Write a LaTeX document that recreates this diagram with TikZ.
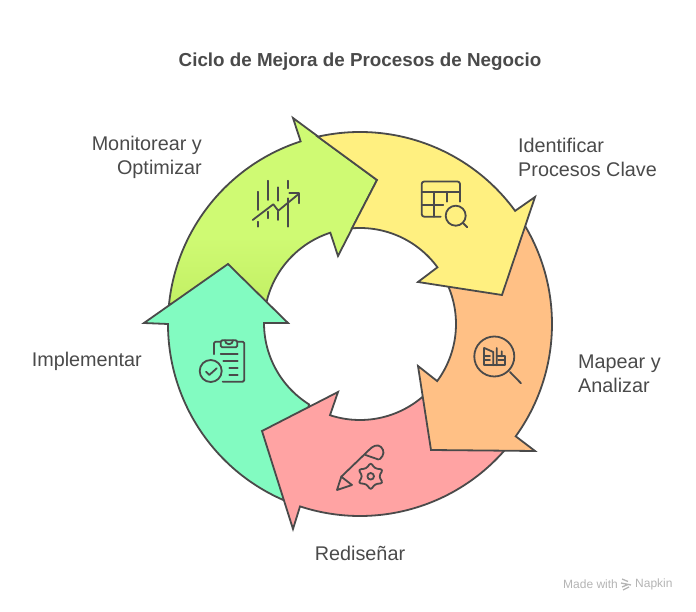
\documentclass[tikz,border=0pt]{standalone}
\usepackage{fontspec}
\setmainfont{Liberation Sans}
\definecolor{inkgrey}{HTML}{4A4A4A}
\definecolor{stepgreen}{HTML}{CFFA73}
\definecolor{stepgreendark}{HTML}{C4F166}
\definecolor{stepteal}{HTML}{82FBC1}
\definecolor{stepred}{HTML}{FFA3A3}
\definecolor{steporange}{HTML}{FFC085}
\definecolor{stepyellow}{HTML}{FFF080}
\definecolor{markgrey}{HTML}{B4B4B4}
\pgfdeclareverticalshading{greenfade}{100bp}{color(0bp)=(stepgreendark);color(27bp)=(stepgreendark);color(43bp)=(stepgreen);color(100bp)=(stepgreen)}
\tikzset{
  arrowshape/.style={draw=inkgrey,line width=1.8pt,line join=miter},
  iconline/.style={draw=inkgrey,line width=1.8pt,line cap=round,line join=round},
  steplabel/.style={text=inkgrey,inner sep=0pt,font=\fontsize{19.8}{24}\selectfont},
}
\begin{document}
\begin{tikzpicture}[x=1pt,y=1pt]
	\useasboundingbox (-360,-288) rectangle (336,324);
	% arrows, origin at the centre of the ring
	\shadedraw[arrowshape,shading=greenfade] (174:192) arc[start angle=174,end angle=108,radius=192pt] -- (-67,206) -- (17,144) -- (-22,68) -- (108:96) arc[start angle=108,end angle=167,radius=96pt] -- cycle;
	\draw[arrowshape,fill=stepteal] (246.5:192) arc[start angle=246.5,end angle=180,radius=192pt] -- (-216,1) -- (-132,60) -- (-72,1) -- (-96,1) arc[start angle=180,end angle=238,radius=96pt] -- cycle;
	\draw[arrowshape,fill=stepred] (318.8:192) arc[start angle=318.8,end angle=251.8,radius=192pt] -- (-67,-205) -- (-98,-107) -- (-22,-68) -- (251.8:96) arc[start angle=251.8,end angle=310.8,radius=96pt] -- cycle;
	\draw[arrowshape,fill=steporange] (30.4:192) arc[start angle=30.4,end angle=-35.8,radius=192pt] -- (175,-127) -- (71,-126) -- (58,-42) -- (-36.5:96) arc[start angle=-36.5,end angle=22.6,radius=96pt] -- cycle;
	\draw[arrowshape,fill=stepyellow] (102.7:192) arc[start angle=102.7,end angle=36.1,radius=192pt] -- (175,127) -- (142,29) -- (58,42) -- (36.2:96) arc[start angle=36.2,end angle=94.8,radius=96pt] -- (17,144) -- cycle;
	\begin{scope}[shift={(-360,324)},yscale=-1]
		% labels
		\node[steplabel,font=\fontsize{18.8}{24}\selectfont\bfseries] (title) at (360,61.2) {Ciclo de Mejora de Procesos de Negocio};
		\node[steplabel,anchor=east,align=right] (monitor) at (202,157.5) {Monitorear y\\Optimizar};
		\node[steplabel,anchor=west,align=left] (identify) at (518,157.5) {Identificar\\Procesos Clave};
		\node[steplabel,anchor=west,align=left] (map) at (578,373.5) {Mapear y\\Analizar};
		\node[steplabel,anchor=east] (deploy) at (142,361.5) {Implementar};
		\node[steplabel] (redesign) at (360,553) {Rediseñar};
		\node[text=markgrey,inner sep=0pt,font=\fontsize{12}{14}\selectfont,anchor=west] (made) at (563,584.5) {Made with};
		\node[text=markgrey,inner sep=0pt,font=\fontsize{12}{14}\selectfont,anchor=west] (napkin) at (635,584.5) {Napkin};
		\draw[markgrey,line width=1.3pt] (622,579)--(628,581.5) (621,583)--(631,585) (622,587)--(628,584.5) (623,590)--(629,587);
		% chart icon
		\draw[iconline] (258.3,191.7)--(258.3,210) (258.3,221.7)--(258.3,226.7);
		\draw[iconline] (268.3,180.7)--(268.3,200) (268.3,211.7)--(268.3,218.3);
		\draw[iconline] (278.3,187.3)--(278.3,200.7) (278.3,211.7)--(278.3,220);
		\draw[iconline] (288.3,180.7)--(288.3,188.3) (288.3,198.3)--(288.3,226.7);
		\draw[iconline] (252.7,220)--(273.3,204.3)--(278.3,210.7)--(298.3,194.3);
		\draw[iconline] (289.3,193.3)--(299,193.3)--(299,203.3);
		% table icon
		\draw[iconline,rounded corners=2.5pt] (460,201.7)--(460,181.5)--(421.7,181.5)--(421.7,216.7)--(440.7,216.7);
		\draw[iconline] (421.7,191.7)--(460,191.7) (421.7,205)--(443.3,205);
		\draw[iconline] (434.3,191.7)--(434.3,216.7) (447.3,191.7)--(447.3,201.7);
		\draw[iconline] (455.7,215.7) circle (10);
		\draw[iconline] (462.7,222.7)--(467.3,227.3);
		% factory icon
		\draw[iconline] (494.3,356.5) circle (20);
		\draw[iconline] (510,372)--(521,383.3);
		\draw[iconline] (484.3,348)--(484.3,365.3)--(505,365.3)--(505,356.3)--(496.7,356.3);
		\draw[iconline] (484.3,348)--(493.3,352)--(493.3,365.3) (496.7,348)--(496.7,365.3) (501.7,351.3)--(501.7,356.3);
		\draw[iconline] (484.3,355.7)--(490,355.7) (484.3,360.3)--(490,360.3) (498.3,360)--(505,360);
		% pencil icon
		\draw[iconline] (352,485)--(337,490)--(341.3,476.7)--(352,485);
		\draw[iconline] (341.3,476.7)--(369,450) .. controls (373,445.5) and (378,444) .. (381,447) .. controls (384.5,450.5) and (384.5,455) .. (379.7,459.3);
		\draw[iconline] (365.5,455)--(378.5,459.5);
		\draw[iconline] (370.7,476.3) circle (3.3);
		\draw[iconline,rounded corners=2.5pt] (370.7,462.6)--(375,468.5)--(383,469.5)--(379,476.3)--(383,483.1)--(375,484.1)--(370.7,490)--(366.4,484.1)--(358.4,483.1)--(362.4,476.3)--(358.4,469.5)--(366.4,468.5)--cycle;
		% clipboard icon
		\draw[iconline,rounded corners=1.5pt] (214,354.3)--(214,341.7)--(244.3,341.7)--(244.3,381.7)--(222.7,381.7);
		\draw[iconline,fill=stepteal,rounded corners=1.5pt] (220.7,340.3) rectangle (237.3,347.3);
		\draw[iconline] (225,340.3) arc[start angle=180,end angle=0,radius=4pt];
		\draw[iconline] (220.7,354)--(237.7,354) (223.3,361)--(237.7,361) (229.3,367.7)--(237.7,367.7) (229.3,374.7)--(237.7,374.7);
		\draw[iconline] (210.7,371) circle (11);
		\draw[iconline] (206,371.7)--(209.3,375)--(216.7,368.3);
	\end{scope}
\end{tikzpicture}
\end{document}
